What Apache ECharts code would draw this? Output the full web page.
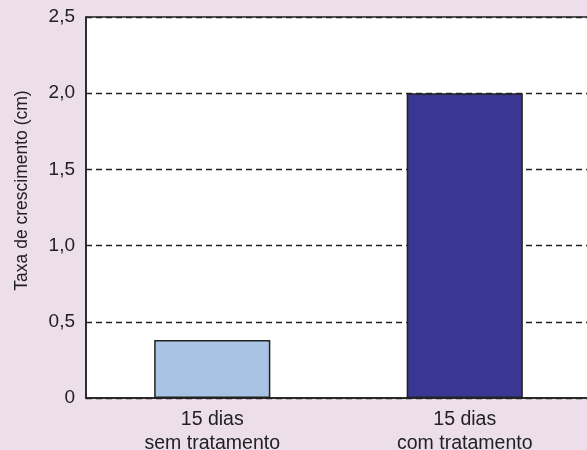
<!DOCTYPE html>
<html>
<head>
<meta charset="utf-8">
<script src="https://cdn.jsdelivr.net/npm/echarts@6/dist/echarts.min.js"></script>
<style>
html,body{margin:0;padding:0;background:#ecdeeb;}
#c{width:587px;height:450px;}
</style>
</head>
<body>
<div id="c"></div>
<script>
const categories = ['15 dias\nsem tratamento', '15 dias\ncom tratamento'];
const values = [0.38, 2.0];
const barColors = ['#a8c3e3', '#3a3793'];
const yTitle = 'Taxa de crescimento (cm)';

const chart = echarts.init(document.getElementById('c'), null, {renderer: 'canvas'});
chart.setOption({
  backgroundColor: '#ecdeeb',
  animation: false,
  textStyle: {fontFamily: 'Liberation Sans, Arial, sans-serif'},
  grid: {
    left: 86, top: 17, right: -4, bottom: 52,
    outerBoundsMode: 'none',
    containLabel: false,
    show: true, backgroundColor: '#ffffff', borderColor: '#222', borderWidth: 1.5
  },
  xAxis: {
    type: 'category',
    data: categories,
    axisLine: {show: true, lineStyle: {color: '#222', width: 1.5}},
    axisTick: {show: false},
    axisLabel: {color: '#222', fontSize: 19.5, lineHeight: 24, margin: 10},
    splitLine: {show: false}
  },
  yAxis: {
    type: 'value',
    min: 0, max: 2.5, interval: 0.5,
    name: yTitle,
    nameLocation: 'middle',
    nameGap: 55,
    nameTextStyle: {color: '#222', fontSize: 17.5, padding: [0, 0, 0, 34]},
    axisLine: {show: true, lineStyle: {color: '#222', width: 1.5}},
    axisTick: {show: false},
    axisLabel: {
      color: '#222', fontSize: 19, margin: 11,
      formatter: v => v === 0 ? '0' : v.toFixed(1).replace('.', ',')
    },
    splitLine: {show: true, lineStyle: {color: '#222', type: [6, 4], width: 1.3}}
  },
  series: [{
    type: 'bar',
    data: values.map((v, i) => ({value: v, itemStyle: {color: barColors[i]}})),
    barWidth: '46%',
    itemStyle: {borderColor: '#222', borderWidth: 1.5},
    z: 3
  }]
});
</script>
</body>
</html>
